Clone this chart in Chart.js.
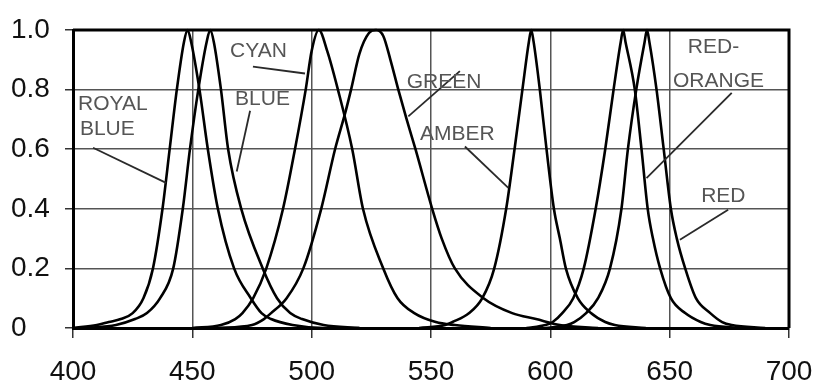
<!DOCTYPE html>
<html>
<head>
<meta charset="utf-8">
<script src="https://cdn.jsdelivr.net/npm/chart.js@4.4.1/dist/chart.umd.min.js"></script>
<style>
  html, body { margin: 0; padding: 0; background: #fff; }
</style>
</head>
<body>
<canvas id="spectra" width="817" height="383"></canvas>
<script>
// wavelength (nm) / relative intensity pairs
const royalBlueNm  = [400, 410, 415, 420, 425, 429.5, 433.5, 437.5, 440.5, 443.5, 446.5, 448, 449.5, 453, 456.5, 460.7, 467.5, 474.5, 479, 483, 492, 505, 520];
const royalBlueVal = [0, 0.01, 0.02, 0.03, 0.05, 0.1, 0.2, 0.4, 0.6, 0.8, 0.96, 1.0, 0.96, 0.8, 0.6, 0.4, 0.2, 0.1, 0.05, 0.03, 0.01, 0, 0];

const blueNm  = [405, 418, 426, 431, 436.5, 442, 446, 449, 452.5, 456, 457.5, 459, 462, 465, 470.5, 479.5, 485.5, 491, 496, 505, 520];
const blueVal = [0, 0.01, 0.03, 0.05, 0.1, 0.2, 0.4, 0.6, 0.8, 0.96, 1.0, 0.96, 0.8, 0.6, 0.4, 0.2, 0.1, 0.05, 0.03, 0.01, 0];

const cyanNm  = [450, 462, 468, 471, 475.5, 481, 488, 493, 497.5, 500, 503, 506.5, 511, 517, 521.5, 530, 536, 543, 552, 560, 575];
const cyanVal = [0, 0.01, 0.03, 0.05, 0.1, 0.2, 0.4, 0.6, 0.8, 0.93, 1.0, 0.93, 0.8, 0.6, 0.4, 0.2, 0.1, 0.05, 0.02, 0.01, 0];

const greenNm  = [460, 475, 480, 483, 489.5, 496.5, 504, 509.8, 514, 516.5, 520, 524, 527, 530, 533, 536.3, 539.8, 543.5, 550.5, 554.5, 560, 572, 584, 594, 604, 620];
const greenVal = [0, 0.01, 0.03, 0.05, 0.1, 0.2, 0.4, 0.6, 0.72, 0.8, 0.92, 0.99, 1.0, 0.98, 0.9, 0.8, 0.7, 0.6, 0.4, 0.3, 0.2, 0.1, 0.05, 0.03, 0.01, 0];

const amberNm  = [545, 556, 559, 566, 571.5, 576.5, 581.5, 585, 588.3, 591, 592, 593, 595.6, 598.4, 601.5, 604, 606.5, 611.5, 617, 623, 627, 640];
const amberVal = [0, 0.01, 0.02, 0.05, 0.1, 0.2, 0.4, 0.6, 0.8, 0.96, 1.0, 0.96, 0.8, 0.6, 0.4, 0.3, 0.2, 0.1, 0.05, 0.02, 0.01, 0];

const redOrangeNm  = [590, 598, 601, 605, 609.6, 614, 619, 623, 626.5, 629.5, 630.5, 631.5, 635.4, 638.2, 640.8, 643, 646, 650.5, 656.5, 663, 667, 680];
const redOrangeVal = [0, 0.01, 0.02, 0.05, 0.1, 0.2, 0.4, 0.6, 0.8, 0.96, 1.0, 0.96, 0.8, 0.6, 0.4, 0.3, 0.2, 0.1, 0.05, 0.02, 0.01, 0];

const redNm  = [598, 607, 610, 615, 620, 625, 629.8, 632.5, 636, 639.5, 640.5, 641.5, 644.5, 647.5, 650.5, 653, 656.5, 661, 667, 672, 676, 690];
const redVal = [0, 0.01, 0.02, 0.05, 0.1, 0.2, 0.4, 0.6, 0.8, 0.96, 1.0, 0.96, 0.8, 0.6, 0.4, 0.3, 0.2, 0.1, 0.05, 0.02, 0.01, 0];

// curve names written on the plot, anchored at (nm, intensity) of the text's left baseline
const labelText = ['ROYAL', 'BLUE', 'CYAN', 'BLUE', 'GREEN', 'AMBER', 'RED-', 'ORANGE', 'RED'];
const labelNm   = [402.1, 402.9, 465.8, 467.9, 539.8, 545.4, 657.6, 651.4, 663.2];
const labelVal  = [0.733, 0.649, 0.911, 0.75, 0.807, 0.632, 0.924, 0.81, 0.424];

// leader lines from each name to its curve: [nm1, val1, nm2, val2]
const leaders = [
    [408.4, 0.605, 439.0, 0.487],
    [475.4, 0.877, 497.2, 0.854],
    [474.2, 0.729, 468.6, 0.525],
    [562.1, 0.862, 540.5, 0.710],
    [564.2, 0.609, 582.4, 0.470],
    [676.0, 0.789, 640.3, 0.503],
    [674.5, 0.397, 654.3, 0.296]
];

const xTicks = [400, 450, 500, 550, 600, 650, 700];
const yTicks = [0, 0.2, 0.4, 0.6, 0.8, 1.0];

function toPoints(nm, val) {
    return nm.map((w, i) => ({ x: w, y: val[i] }));
}

function curve(label, nm, val) {
    return {
        label: label,
        data: toPoints(nm, val),
        borderColor: '#000',
        borderWidth: 2.6,
        pointRadius: 0,
        cubicInterpolationMode: 'monotone',
        clip: 4
    };
}

const frameAndLabels = {
    id: 'frameAndLabels',
    afterDatasetsDraw(chart) {
        const { ctx, chartArea: a, scales: { x, y } } = chart;
        ctx.save();
        ctx.strokeStyle = '#000';
        ctx.lineWidth = 3;
        ctx.beginPath();
        ctx.moveTo(a.left, a.top);
        ctx.lineTo(a.right, a.top);
        ctx.lineTo(a.right, a.bottom);
        ctx.stroke();

        ctx.strokeStyle = '#2a2a2a';
        ctx.lineWidth = 1.8;
        leaders.forEach(l => {
            ctx.beginPath();
            ctx.moveTo(x.getPixelForValue(l[0]), y.getPixelForValue(l[1]));
            ctx.lineTo(x.getPixelForValue(l[2]), y.getPixelForValue(l[3]));
            ctx.stroke();
        });

        ctx.fillStyle = '#555';
        ctx.font = '21px Arial, "Liberation Sans", sans-serif';
        ctx.textAlign = 'left';
        ctx.textBaseline = 'alphabetic';
        labelText.forEach((t, i) => {
            ctx.fillText(t, x.getPixelForValue(labelNm[i]), y.getPixelForValue(labelVal[i]));
        });
        ctx.restore();
    }
};

const tickFont = { family: 'Arial, "Liberation Sans", sans-serif', size: 28 };

new Chart(document.getElementById('spectra'), {
    type: 'line',
    data: {
        datasets: [
            curve('Royal Blue', royalBlueNm, royalBlueVal),
            curve('Blue', blueNm, blueVal),
            curve('Cyan', cyanNm, cyanVal),
            curve('Green', greenNm, greenVal),
            curve('Amber', amberNm, amberVal),
            curve('Red-Orange', redOrangeNm, redOrangeVal),
            curve('Red', redNm, redVal)
        ]
    },
    options: {
        responsive: false,
        animation: false,
        layout: { padding: { left: 11, top: 30, right: 28, bottom: 0 } },
        plugins: {
            legend: { display: false },
            tooltip: { enabled: false }
        },
        scales: {
            x: {
                type: 'linear',
                min: 400,
                max: 700,
                afterBuildTicks: s => { s.ticks = xTicks.map(v => ({ value: v })); },
                afterFit: s => {
                    s.height = 55;
                    s.paddingLeft = 0;
                    s.paddingRight = 0;
                },
                ticks: { font: tickFont, color: '#111', padding: 17, maxRotation: 0 },
                grid: { color: '#555', lineWidth: 1.5, tickLength: 10, tickColor: '#333' },
                border: { color: '#000', width: 3 }
            },
            y: {
                min: 0,
                max: 1,
                afterBuildTicks: s => { s.ticks = yTicks.map(v => ({ value: v })); },
                afterFit: s => { s.width = 62; },
                ticks: {
                    font: tickFont,
                    color: '#111',
                    crossAlign: 'far',
                    callback: v => v === 0 ? '0' : v.toFixed(1)
                },
                grid: { color: '#555', lineWidth: 1.5, tickLength: 8, tickColor: '#333' },
                border: { color: '#000', width: 3 }
            }
        }
    },
    plugins: [frameAndLabels]
});
</script>
</body>
</html>
